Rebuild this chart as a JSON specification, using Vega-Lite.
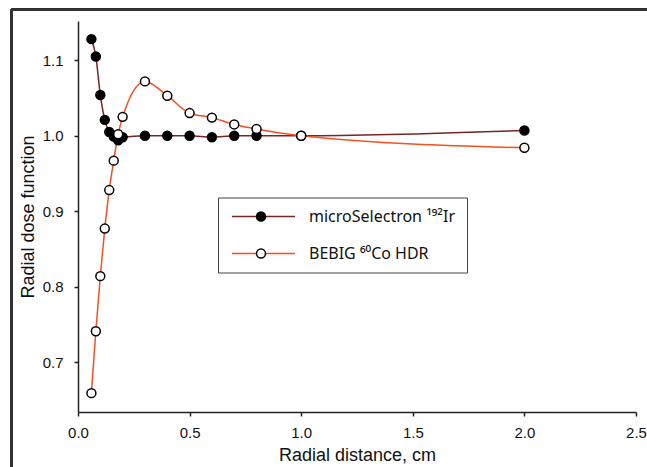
{
  "$schema": "https://vega.github.io/schema/vega-lite/v6.json",
  "width": 558,
  "height": 391,
  "autosize": {"type": "none"},
  "padding": {"left": 78, "top": 21, "right": 11, "bottom": 55},
  "background": "white",
  "config": {
    "view": {"stroke": null},
    "font": "Liberation Sans",
    "axis": {
      "grid": false,
      "labelFlush": false,
      "domainColor": "#222222",
      "domainWidth": 1.5,
      "tickColor": "#222222",
      "tickWidth": 1.5,
      "tickSize": 4,
      "labelFont": "Liberation Sans",
      "labelFontSize": 15,
      "labelColor": "#111111",
      "titleFont": "Liberation Sans",
      "titleFontSize": 18,
      "titleFontWeight": "normal",
      "titleColor": "#111111"
    }
  },
  "data": {
    "values": [
      {"series": "microSelectron ¹⁹²Ir", "r": 0.06, "g": 1.128},
      {"series": "microSelectron ¹⁹²Ir", "r": 0.08, "g": 1.105},
      {"series": "microSelectron ¹⁹²Ir", "r": 0.10, "g": 1.054},
      {"series": "microSelectron ¹⁹²Ir", "r": 0.12, "g": 1.021},
      {"series": "microSelectron ¹⁹²Ir", "r": 0.14, "g": 1.005},
      {"series": "microSelectron ¹⁹²Ir", "r": 0.16, "g": 0.999},
      {"series": "microSelectron ¹⁹²Ir", "r": 0.18, "g": 0.994},
      {"series": "microSelectron ¹⁹²Ir", "r": 0.20, "g": 0.998},
      {"series": "microSelectron ¹⁹²Ir", "r": 0.3, "g": 1.000},
      {"series": "microSelectron ¹⁹²Ir", "r": 0.4, "g": 1.000},
      {"series": "microSelectron ¹⁹²Ir", "r": 0.5, "g": 1.000},
      {"series": "microSelectron ¹⁹²Ir", "r": 0.6, "g": 0.998},
      {"series": "microSelectron ¹⁹²Ir", "r": 0.7, "g": 1.000},
      {"series": "microSelectron ¹⁹²Ir", "r": 0.8, "g": 1.000},
      {"series": "microSelectron ¹⁹²Ir", "r": 1.0, "g": 1.000},
      {"series": "microSelectron ¹⁹²Ir", "r": 2.0, "g": 1.007},
      {"series": "BEBIG ⁶⁰Co HDR", "r": 0.06, "g": 0.659},
      {"series": "BEBIG ⁶⁰Co HDR", "r": 0.08, "g": 0.741},
      {"series": "BEBIG ⁶⁰Co HDR", "r": 0.10, "g": 0.814},
      {"series": "BEBIG ⁶⁰Co HDR", "r": 0.12, "g": 0.877},
      {"series": "BEBIG ⁶⁰Co HDR", "r": 0.14, "g": 0.928},
      {"series": "BEBIG ⁶⁰Co HDR", "r": 0.16, "g": 0.967},
      {"series": "BEBIG ⁶⁰Co HDR", "r": 0.18, "g": 1.002},
      {"series": "BEBIG ⁶⁰Co HDR", "r": 0.20, "g": 1.025},
      {"series": "BEBIG ⁶⁰Co HDR", "r": 0.3, "g": 1.072},
      {"series": "BEBIG ⁶⁰Co HDR", "r": 0.4, "g": 1.053},
      {"series": "BEBIG ⁶⁰Co HDR", "r": 0.5, "g": 1.030},
      {"series": "BEBIG ⁶⁰Co HDR", "r": 0.6, "g": 1.024},
      {"series": "BEBIG ⁶⁰Co HDR", "r": 0.7, "g": 1.015},
      {"series": "BEBIG ⁶⁰Co HDR", "r": 0.8, "g": 1.009},
      {"series": "BEBIG ⁶⁰Co HDR", "r": 1.0, "g": 1.000},
      {"series": "BEBIG ⁶⁰Co HDR", "r": 2.0, "g": 0.984}
    ]
  },
  "encoding": {
    "x": {
      "field": "r",
      "type": "quantitative",
      "scale": {"domain": [0, 2.5], "nice": false, "zero": false},
      "axis": {"title": "Radial distance, cm", "values": [0, 0.5, 1, 1.5, 2, 2.5], "format": ".1f", "labelPadding": 9, "titlePadding": 6}
    },
    "y": {
      "field": "g",
      "type": "quantitative",
      "scale": {"domain": [0.634, 1.152], "nice": false, "zero": false},
      "axis": {"title": "Radial dose function", "values": [0.7, 0.8, 0.9, 1.0, 1.1], "format": ".1f", "labelPadding": 11, "titlePadding": 5}
    }
  },
  "layer": [
    {
      "mark": {"type": "rule", "clip": false, "color": "#333333", "strokeWidth": 2},
      "encoding": {
        "x": {"datum": -0.2966},
        "y": {"datum": 1.1668},
        "y2": {"datum": 0.5}
      }
    },
    {
      "mark": {"type": "rule", "clip": false, "color": "#333333", "strokeWidth": 2},
      "encoding": {
        "y": {"datum": 1.1668},
        "x": {"datum": -0.2966},
        "x2": {"datum": 3.0}
      }
    },
    {
      "mark": {"type": "line", "interpolate": "monotone", "strokeWidth": 1.5},
      "encoding": {
        "color": {
          "field": "series",
          "type": "nominal",
          "scale": {"domain": ["microSelectron ¹⁹²Ir", "BEBIG ⁶⁰Co HDR"], "range": ["#7a2424", "#f4511e"]},
          "legend": {
            "title": null,
            "orient": "none",
            "legendX": 140,
            "legendY": 176.5,
            "symbolType": "M-1,0H11.6",
            "symbolSize": 100,
            "symbolStrokeWidth": 1.5,
            "labelFont": "Noto Sans",
            "labelFontSize": 16,
            "labelColor": "#111111",
            "labelOffset": 64,
            "padding": 11,
            "rowPadding": 21,
            "strokeColor": "#444444",
            "fillColor": "white",
            "cornerRadius": 0
          }
        }
      }
    },
    {
      "mark": {"type": "point", "shape": "circle", "size": 80, "stroke": "black", "strokeWidth": 1.5, "opacity": 1},
      "encoding": {
        "fill": {
          "field": "series",
          "type": "nominal",
          "sort": "descending",
          "scale": {"range": ["#000000", "#ffffff"]},
          "legend": {
            "title": null,
            "orient": "none",
            "legendX": 164,
            "legendY": 176.5,
            "symbolType": "circle",
            "symbolSize": 80,
            "symbolStrokeColor": "black",
            "symbolStrokeWidth": 1.5,
            "labelExpr": "''",
            "labelFont": "Noto Sans",
            "labelFontSize": 16,
            "labelOffset": 16,
            "padding": 11,
            "rowPadding": 21
          }
        }
      }
    }
  ]
}
